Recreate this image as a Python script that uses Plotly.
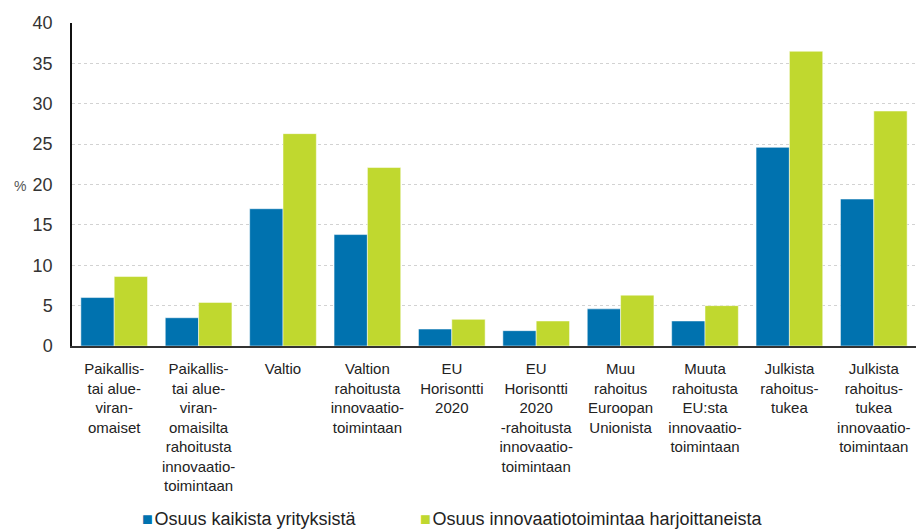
import plotly.graph_objects as go

categories = [
    "Paikallis-<br>tai alue-<br>viran-<br>omaiset",
    "Paikallis-<br>tai alue-<br>viran-<br>omaisilta<br>rahoitusta<br>innovaatio-<br>toimintaan",
    "Valtio",
    "Valtion<br>rahoitusta<br>innovaatio-<br>toimintaan",
    "EU<br>Horisontti<br>2020",
    "EU<br>Horisontti<br>2020<br>-rahoitusta<br>innovaatio-<br>toimintaan",
    "Muu<br>rahoitus<br>Euroopan<br>Unionista",
    "Muuta<br>rahoitusta<br>EU:sta<br>innovaatio-<br>toimintaan",
    "Julkista<br>rahoitus-<br>tukea",
    "Julkista<br>rahoitus-<br>tukea<br>innovaatio-<br>toimintaan",
]
all_firms = [6.0, 3.5, 17.0, 13.8, 2.1, 1.9, 4.6, 3.1, 24.6, 18.2]
innovating = [8.6, 5.4, 26.3, 22.1, 3.3, 3.1, 6.3, 5.0, 36.5, 29.1]

series_names = ["Osuus kaikista yrityksistä", "Osuus innovaatiotoimintaa harjoittaneista"]
colors = ["#0072AF", "#C0D82F"]

fig = go.Figure()
for name, vals, col in zip(series_names, [all_firms, innovating], colors):
    fig.add_trace(
        go.Bar(
            x=categories,
            y=vals,
            name=name,
            showlegend=False,
            marker=dict(color=col, line=dict(color="rgba(255,255,255,0.5)", width=1)),
        )
    )

fig.update_layout(
    width=916,
    height=530,
    barmode="group",
    bargap=0.21,
    bargroupgap=0,
    plot_bgcolor="white",
    paper_bgcolor="white",
    margin=dict(l=72, r=0, t=23, b=184, autoexpand=False),
    font=dict(family="Liberation Sans, Arial, sans-serif", color="#222"),
)

fig.update_yaxes(
    range=[0, 40],
    dtick=5,
    showgrid=True,
    gridcolor="#d2d2d2",
    griddash="dot",
    gridwidth=1,
    showline=True,
    linecolor="#111",
    linewidth=1.5,
    ticks="",
    ticklabelstandoff=14,
    tickfont=dict(size=18, color="#333"),
    zeroline=False,
)
fig.update_xaxes(
    showline=True,
    linecolor="#333",
    linewidth=2,
    ticks="",
    tickangle=0,
    tickfont=dict(size=15, color="#222"),
    ticklabelstandoff=8,
)

# "%" unit label left of the y axis
fig.add_annotation(
    text="%",
    x=(12 - 72) / 844,
    y=(346 - 186) / 323,
    xref="paper",
    yref="paper",
    xanchor="left",
    showarrow=False,
    font=dict(size=14, color="#555"),
)

# legend drawn as text: coloured square + series name
for name, col, px in zip(series_names, colors, [140, 418]):
    fig.add_annotation(
        text=f"<span style='color:{col}'>■</span>\u200a{name}",
        x=(px - 72) / 844,
        y=(346 - 519) / 323,
        xref="paper",
        yref="paper",
        xanchor="left",
        yanchor="middle",
        showarrow=False,
        font=dict(size=18, color="#222"),
    )

fig.write_html(
    "out.html",
    config={"displayModeBar": False},
    post_script="document.body.style.margin='0';",
)
